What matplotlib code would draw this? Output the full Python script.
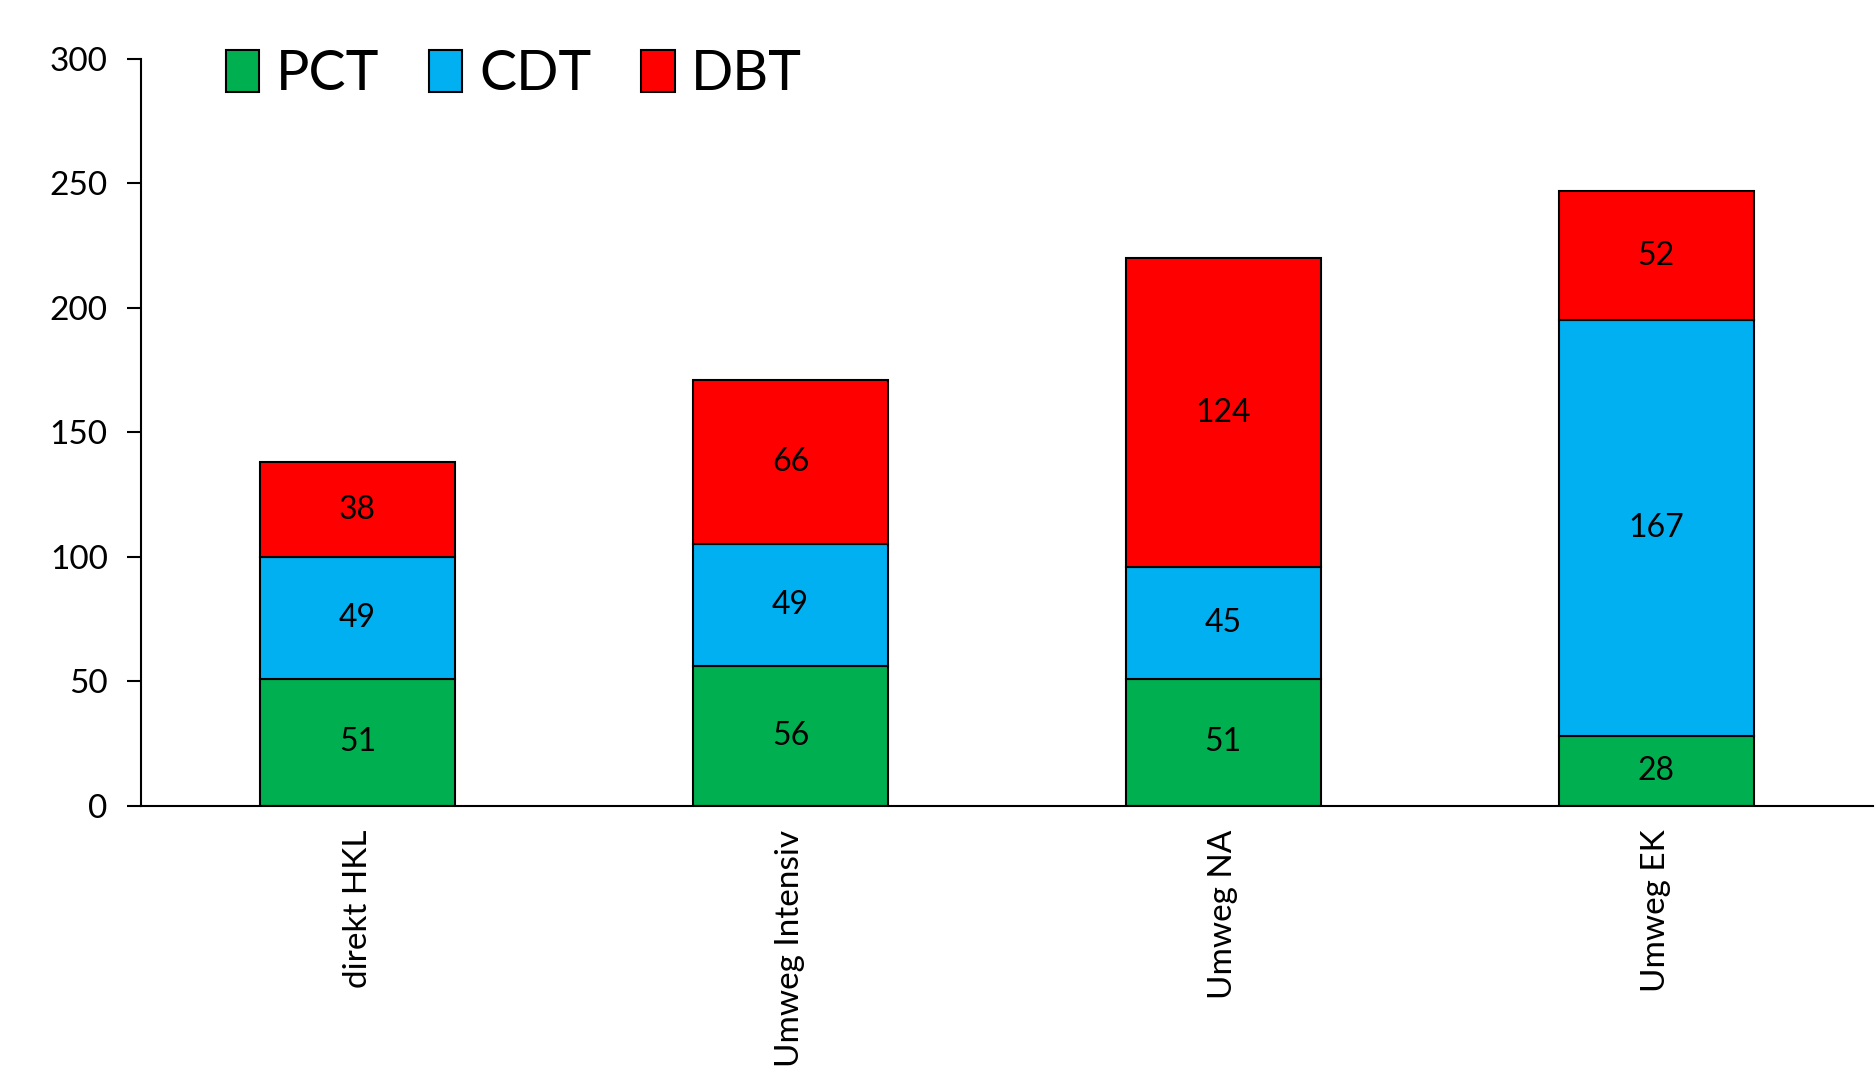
import matplotlib.pyplot as plt
import numpy as np

plt.rcParams['font.family'] = ['Lato', 'DejaVu Sans']

categories = ["direkt HKL", "Umweg Intensiv", "Umweg NA", "Umweg EK"]
pct = [51, 56, 51, 28]
cdt = [49, 49, 45, 167]
dbt = [38, 66, 124, 52]

series = [("PCT", pct, "#00B050"), ("CDT", cdt, "#00B0F0"), ("DBT", dbt, "#FF0000")]

fig = plt.figure(figsize=(18.76, 10.73), dpi=100)
ax = fig.add_axes([0.0752, 0.249, 0.923, 0.696])

x = np.arange(len(categories))
bottom = np.zeros(len(categories))
for name, vals, col in series:
    vals = np.array(vals)
    ax.bar(x, vals, 0.45, bottom=bottom, color=col, edgecolor="black",
           linewidth=1.5, label=name)
    for xi, b, v in zip(x, bottom, vals):
        ax.text(xi, b + v / 2, str(v), ha="center", va="center", fontsize=23)
    bottom = bottom + vals

ax.set_xlim(-0.5, 3.5)
ax.set_ylim(0, 300)
ax.set_yticks(range(0, 301, 50))
ax.tick_params(axis="y", labelsize=24, length=10, width=1.5, pad=14)
ax.set_xticks(x)
ax.set_xticklabels(categories, rotation=90, fontsize=24)
ax.tick_params(axis="x", length=0, pad=17)
ax.spines["top"].set_visible(False)
ax.spines["right"].set_visible(False)
ax.spines["left"].set_linewidth(1.5)
ax.spines["bottom"].set_linewidth(1.5)

ax.legend(loc="upper left", bbox_to_anchor=(0.02, 1.08), ncol=3, frameon=False,
          fontsize=40, handlelength=0.6, handleheight=0.8, handletextpad=0.3,
          columnspacing=0.9)

fig.savefig("out.png", dpi=100)
